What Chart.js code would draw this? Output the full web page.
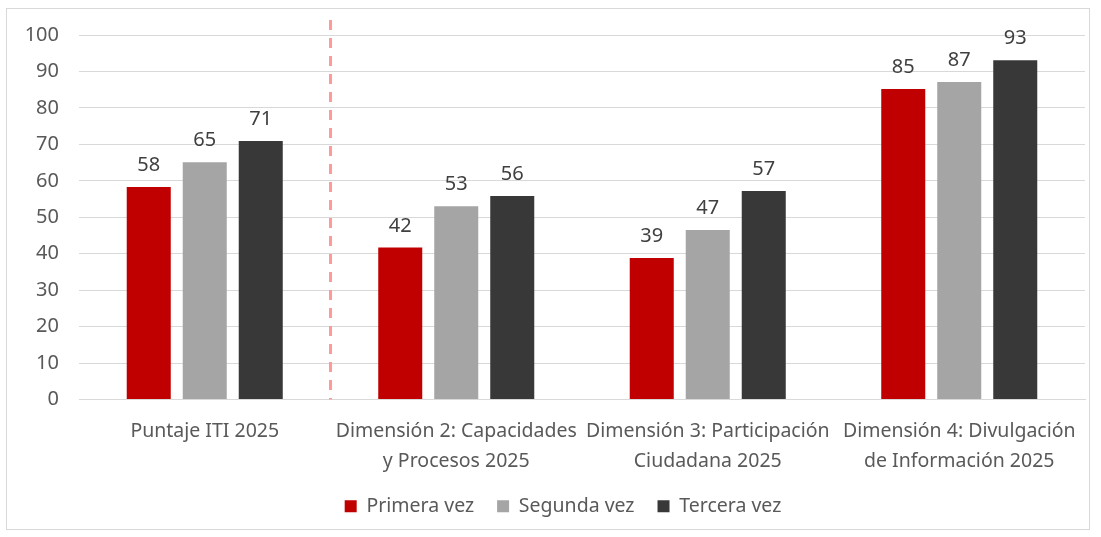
<!DOCTYPE html>
<html>
<head>
<meta charset="utf-8">
<script src="https://cdn.jsdelivr.net/npm/chart.js@4"></script>
<style>
  body { margin: 0; background: #fff; }
  #box { position: absolute; left: 6px; top: 8px; width: 1084px; height: 522px; border: 1px solid #d9d9d9; box-sizing: border-box; }
  canvas { display: block; }
</style>
</head>
<body>
<div id="box"><canvas id="chart" width="1082" height="520"></canvas></div>
<script>
const categories = [
  ['Puntaje ITI 2025'],
  ['Dimensión 2: Capacidades', 'y Procesos 2025'],
  ['Dimensión 3: Participación', 'Ciudadana 2025'],
  ['Dimensión 4: Divulgación', 'de Información 2025']
];
const seriesNames = ['Primera vez', 'Segunda vez', 'Tercera vez'];
const primera = [58.3, 41.7, 38.8, 85.2];
const segunda = [65.1, 53.0, 46.5, 87.1];
const tercera = [70.9, 55.8, 57.2, 93.1];
const yTicks = [0, 10, 20, 30, 40, 50, 60, 70, 80, 90, 100];

const FONT = '"Noto Sans", sans-serif';

// value labels above each bar
const barLabels = {
  id: 'barLabels',
  afterDatasetsDraw(chart) {
    const ctx = chart.ctx;
    ctx.save();
    ctx.font = '20px ' + FONT;
    ctx.fillStyle = '#404040';
    ctx.textAlign = 'center';
    ctx.textBaseline = 'alphabetic';
    chart.data.datasets.forEach((ds, i) => {
      chart.getDatasetMeta(i).data.forEach((bar, j) => {
        ctx.fillText(Math.round(ds.data[j]), bar.x, bar.y - 16);
      });
    });
    ctx.restore();
  }
};

// dashed separator after the first category
const separator = {
  id: 'separator',
  afterDraw(chart) {
    const x = chart.scales.x;
    const px = (x.getPixelForValue(0) + x.getPixelForValue(1)) / 2;
    const ctx = chart.ctx;
    ctx.save();
    ctx.strokeStyle = '#ff9a9a';
    ctx.lineWidth = 3;
    ctx.setLineDash([10, 8]);
    ctx.beginPath();
    ctx.moveTo(px, chart.chartArea.top - 15);
    ctx.lineTo(px, chart.chartArea.bottom);
    ctx.stroke();
    ctx.restore();
  }
};

// legend sits a bit right of centre in the original
const legendShift = {
  id: 'legendShift',
  afterLayout(chart) {
    chart.legend.left += 17;
    chart.legend.right += 17;
  }
};

new Chart(document.getElementById('chart'), {
  type: 'bar',
  data: {
    labels: categories,
    datasets: [
      { label: seriesNames[0], data: primera, backgroundColor: '#c00000' },
      { label: seriesNames[1], data: segunda, backgroundColor: '#a5a5a5' },
      { label: seriesNames[2], data: tercera, backgroundColor: '#383838' }
    ]
  },
  options: {
    responsive: false,
    animation: false,
    devicePixelRatio: 1,
    layout: { padding: { top: 26, right: 4, left: 0, bottom: 3 } },
    datasets: { bar: { categoryPercentage: 0.668, barPercentage: 0.786 } },
    scales: {
      x: {
        grid: { display: false },
        border: { color: '#d9d9d9', width: 1 },
        ticks: { color: '#595959', font: { family: FONT, size: 19.5, lineHeight: 1.55 }, padding: 9, maxRotation: 0, autoSkip: false },
        afterFit: s => { s.height = 74; }
      },
      y: {
        min: 0, max: 100,
        afterBuildTicks: s => { s.ticks = yTicks.map(v => ({ value: v })); },
        grid: { color: '#d9d9d9', lineWidth: 1, drawTicks: false },
        border: { display: false },
        ticks: { color: '#595959', font: { family: FONT, size: 20 }, padding: 20 },
        afterFit: s => { s.width = 72; s.paddingTop = 0; s.paddingBottom = 0; }
      }
    },
    plugins: {
      legend: {
        position: 'bottom',
        labels: { color: '#595959', font: { family: FONT, size: 19.5 }, boxWidth: 12, boxHeight: 12, padding: 23 }
      },
      tooltip: { enabled: false }
    }
  },
  plugins: [barLabels, separator, legendShift]
});
</script>
</body>
</html>
